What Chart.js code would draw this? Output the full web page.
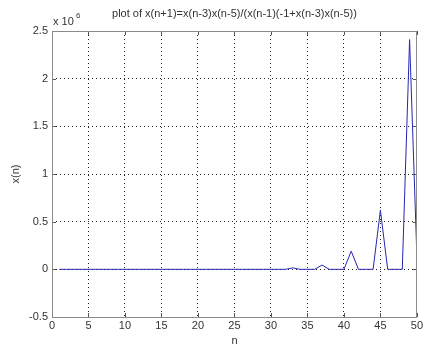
<!DOCTYPE html>
<html>
<head>
<meta charset="utf-8">
<script src="https://cdn.jsdelivr.net/npm/chart.js@4"></script>
<style>
  html, body { margin: 0; padding: 0; background: #fff; }
  #wrap { width: 425px; height: 345px; }
</style>
</head>
<body>
<div id="wrap"><canvas id="c" width="425" height="345"></canvas></div>
<script>
// n = 1..50
const nValues = [
  1, 2, 3, 4, 5, 6, 7, 8, 9, 10,
  11, 12, 13, 14, 15, 16, 17, 18, 19, 20,
  21, 22, 23, 24, 25, 26, 27, 28, 29, 30,
  31, 32, 33, 34, 35, 36, 37, 38, 39, 40,
  41, 42, 43, 44, 45, 46, 47, 48, 49, 50
];
// x(n) in units of 10^6
const xValues = [
  0, 0, 0, 0, 0, 0, 0, 0, 0, 0,
  0, 0, 0, 0, 0, 0, 0, 0, 0, 0,
  0, 0, 0, 0, 0, 0, 0, 0, 0, 0,
  0, 0, 0.015, 0, 0, 0, 0.045, 0, 0, 0,
  0.19, 0, 0, 0, 0.62, 0, 0, 0, 2.41, 0.14
];
const titleText = 'plot of x(n+1)=x(n-3)x(n-5)/(x(n-1)(-1+x(n-3)x(n-5))';

const FONT = '"Liberation Sans", Arial, sans-serif';
const TXT = '#333';

// MATLAB-ish box, inward ticks, title and exponent label
const matlabDeco = {
  id: 'matlabDeco',
  afterDraw(chart) {
    const { ctx, chartArea: a, scales } = chart;
    ctx.save();
    // inward tick marks
    ctx.strokeStyle = '#555';
    ctx.lineWidth = 1;
    scales.x.ticks.forEach(t => {
      const x = Math.round(scales.x.getPixelForValue(t.value)) + 0.5;
      ctx.beginPath();
      ctx.moveTo(x, a.bottom); ctx.lineTo(x, a.bottom - 4);
      ctx.moveTo(x, a.top); ctx.lineTo(x, a.top + 4);
      ctx.stroke();
    });
    scales.y.ticks.forEach(t => {
      const y = Math.round(scales.y.getPixelForValue(t.value)) + 0.5;
      ctx.beginPath();
      ctx.moveTo(a.left, y); ctx.lineTo(a.left + 4, y);
      ctx.moveTo(a.right, y); ctx.lineTo(a.right - 4, y);
      ctx.stroke();
    });
    // box
    ctx.strokeStyle = '#8a8a8a';
    ctx.strokeRect(Math.round(a.left) + 0.5, Math.round(a.top) + 0.5,
      Math.round(a.right - a.left) - 1, Math.round(a.bottom - a.top));
    // title
    ctx.fillStyle = TXT;
    ctx.font = '11px ' + FONT;
    ctx.textAlign = 'center';
    ctx.textBaseline = 'alphabetic';
    ctx.fillText(titleText, (a.left + a.right) / 2, 17);
    // exponent
    ctx.textAlign = 'left';
    ctx.fillText('x 10', a.left + 1, 25);
    ctx.font = '8px ' + FONT;
    ctx.fillText('6', a.left + 24, 18);
    ctx.restore();
  }
};

new Chart(document.getElementById('c'), {
  type: 'line',
  data: {
    labels: nValues,
    datasets: [{
      label: 'x(n)',
      data: nValues.map((n, i) => ({ x: n, y: xValues[i] })),
      borderColor: '#2626b4',
      borderWidth: 1,
      pointRadius: 0,
      tension: 0,
      fill: false
    }]
  },
  plugins: [matlabDeco],
  options: {
    responsive: false,
    animation: false,
    layout: { padding: { top: 31, right: 1, left: 0, bottom: 0 } },
    plugins: {
      legend: { display: false },
      tooltip: { enabled: false },
      title: { display: false }
    },
    scales: {
      x: {
        type: 'linear',
        min: 0,
        max: 50,
        ticks: {
          stepSize: 5,
          color: TXT,
          font: { family: FONT, size: 11 },
          padding: 2,
          maxRotation: 0,
          autoSkip: false
        },
        grid: { color: '#222', drawTicks: false, lineWidth: 1 },
        border: { display: false, dash: [1, 3] },
        title: {
          display: true,
          text: 'n',
          color: TXT,
          font: { family: FONT, size: 11 },
          padding: { top: 0, bottom: -3 }
        },
        afterFit(scale) { scale.height = 28; }
      },
      y: {
        min: -0.5,
        max: 2.5,
        ticks: {
          stepSize: 0.5,
          color: TXT,
          font: { family: FONT, size: 11 },
          padding: 4,
          callback: (v) => String(Math.round(v * 10) / 10)
        },
        grid: { color: '#222', drawTicks: false, lineWidth: 1 },
        border: { display: false, dash: [1, 3] },
        title: {
          display: true,
          text: 'x(n)',
          color: TXT,
          font: { family: FONT, size: 11 },
          padding: { top: 9, bottom: 0 }
        },
        afterFit(scale) { scale.width = 52; }
      }
    }
  }
});
</script>
</body>
</html>
